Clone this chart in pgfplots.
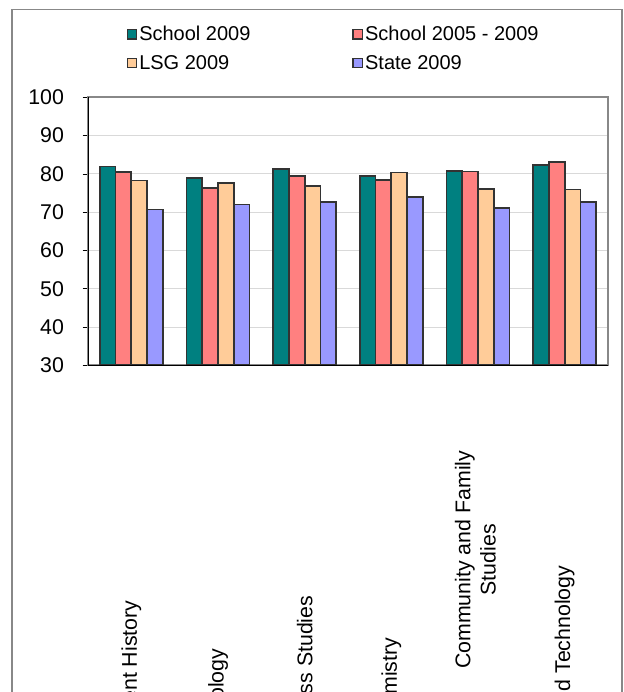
\documentclass[border=0pt]{standalone}
\usepackage{fontspec}
\setmainfont{Liberation Sans}
\usepackage{pgfplots}
\pgfplotsset{compat=1.18}
\definecolor{cTeal}{HTML}{008080}
\definecolor{cSalmon}{HTML}{FF8080}
\definecolor{cPeach}{HTML}{FFCC99}
\definecolor{cLav}{HTML}{9999FF}
\definecolor{cEdge}{HTML}{333333}
\definecolor{cGrid}{HTML}{D9D9D9}
\definecolor{cFrame}{HTML}{888888}
\begin{document}
\begin{tikzpicture}
\clip (0pt,0pt) rectangle (468pt,519pt);
\fill[white] (0pt,0pt) rectangle (468pt,519pt);
\draw[cFrame, line width=0.8pt] (9pt,-10pt) rectangle (466.5pt,512pt);
\begin{axis}[
  at={(66pt,245pt)}, anchor=south west,
  scale only axis, width=390pt, height=201pt,
  xmin=-0.5, xmax=5.5, ymin=30, ymax=100,
  ybar=0pt, bar width=11.85pt,
  ytick={30,40,...,100},
  ymajorgrids, grid style={cGrid, line width=0.8pt},
  axis line style={cFrame, line width=1.5pt},
  tick align=outside,
  xtick pos=lower, ytick pos=left,
  major tick length=4pt,
  ytick style={black, line width=0.6pt},
  xtick={0,...,5},
  xtick style={draw=none},
  extra x ticks={-0.5,0.5,1.5,2.5,3.5,4.5,5.5},
  extra x tick labels={},
  extra x tick style={major tick length=4pt, xtick style={black, line width=0.6pt}, grid=none},
  xticklabels={Ancient History\hspace*{112.5pt}, Biology\hspace*{148.5pt}, Business Studies\hspace*{108.75pt}, Chemistry\hspace*{140.25pt}, {\begin{tabular}{@{}c@{}}Community and Family\\Studies\end{tabular}}, Design and Technology\hspace*{86.25pt}},
  xticklabel style={font=\fontsize{16}{19}\selectfont, yshift=-56.5pt, rotate=90, anchor=east},
  yticklabel style={font=\fontsize{16}{19}\selectfont, xshift=-10.5pt},
  /pgf/number format/assume math mode=true,
  legend columns=2,
  legend cell align=left,
  legend style={draw=none, fill=none, at={(axis description cs:0.066,1.287)}, anchor=north west,
    font=\fontsize{15}{18}\selectfont, row sep=5.5pt,
    nodes={inner xsep=1.5pt},
    /tikz/every even column/.append style={column sep=75pt}},
]
\addplot[fill=cTeal, draw=cEdge, line width=1.3pt, legend image code/.code={\draw[fill=cTeal, draw=cEdge, line width=1pt] (0pt,-3.5pt) rectangle (7pt,3.5pt);}]
  coordinates {(0,81.9) (1,78.9) (2,81.2) (3,79.4) (4,80.7) (5,82.4)};
\addlegendentry{School 2009}
\addplot[fill=cSalmon, draw=cEdge, line width=1.3pt, legend image code/.code={\draw[fill=cSalmon, draw=cEdge, line width=1pt] (0pt,-3.5pt) rectangle (7pt,3.5pt);}]
  coordinates {(0,80.5) (1,76.3) (2,79.5) (3,78.4) (4,80.6) (5,83.2)};
\addlegendentry{School 2005 - 2009}
\addplot[fill=cPeach, draw=cEdge, line width=1.3pt, legend image code/.code={\draw[fill=cPeach, draw=cEdge, line width=1pt] (0pt,-3.5pt) rectangle (7pt,3.5pt);}]
  coordinates {(0,78.3) (1,77.6) (2,76.9) (3,80.4) (4,76.0) (5,75.9)};
\addlegendentry{LSG 2009}
\addplot[fill=cLav, draw=cEdge, line width=1.3pt, legend image code/.code={\draw[fill=cLav, draw=cEdge, line width=1pt] (0pt,-3.5pt) rectangle (7pt,3.5pt);}]
  coordinates {(0,70.7) (1,72.0) (2,72.6) (3,73.9) (4,71.0) (5,72.6)};
\addlegendentry{State 2009}
\draw[black, line width=0.8pt] (rel axis cs:0,0) -- (rel axis cs:0,1);
\draw[black, line width=0.8pt] (rel axis cs:0,0) -- (rel axis cs:1,0);
\end{axis}
\end{tikzpicture}
\end{document}
